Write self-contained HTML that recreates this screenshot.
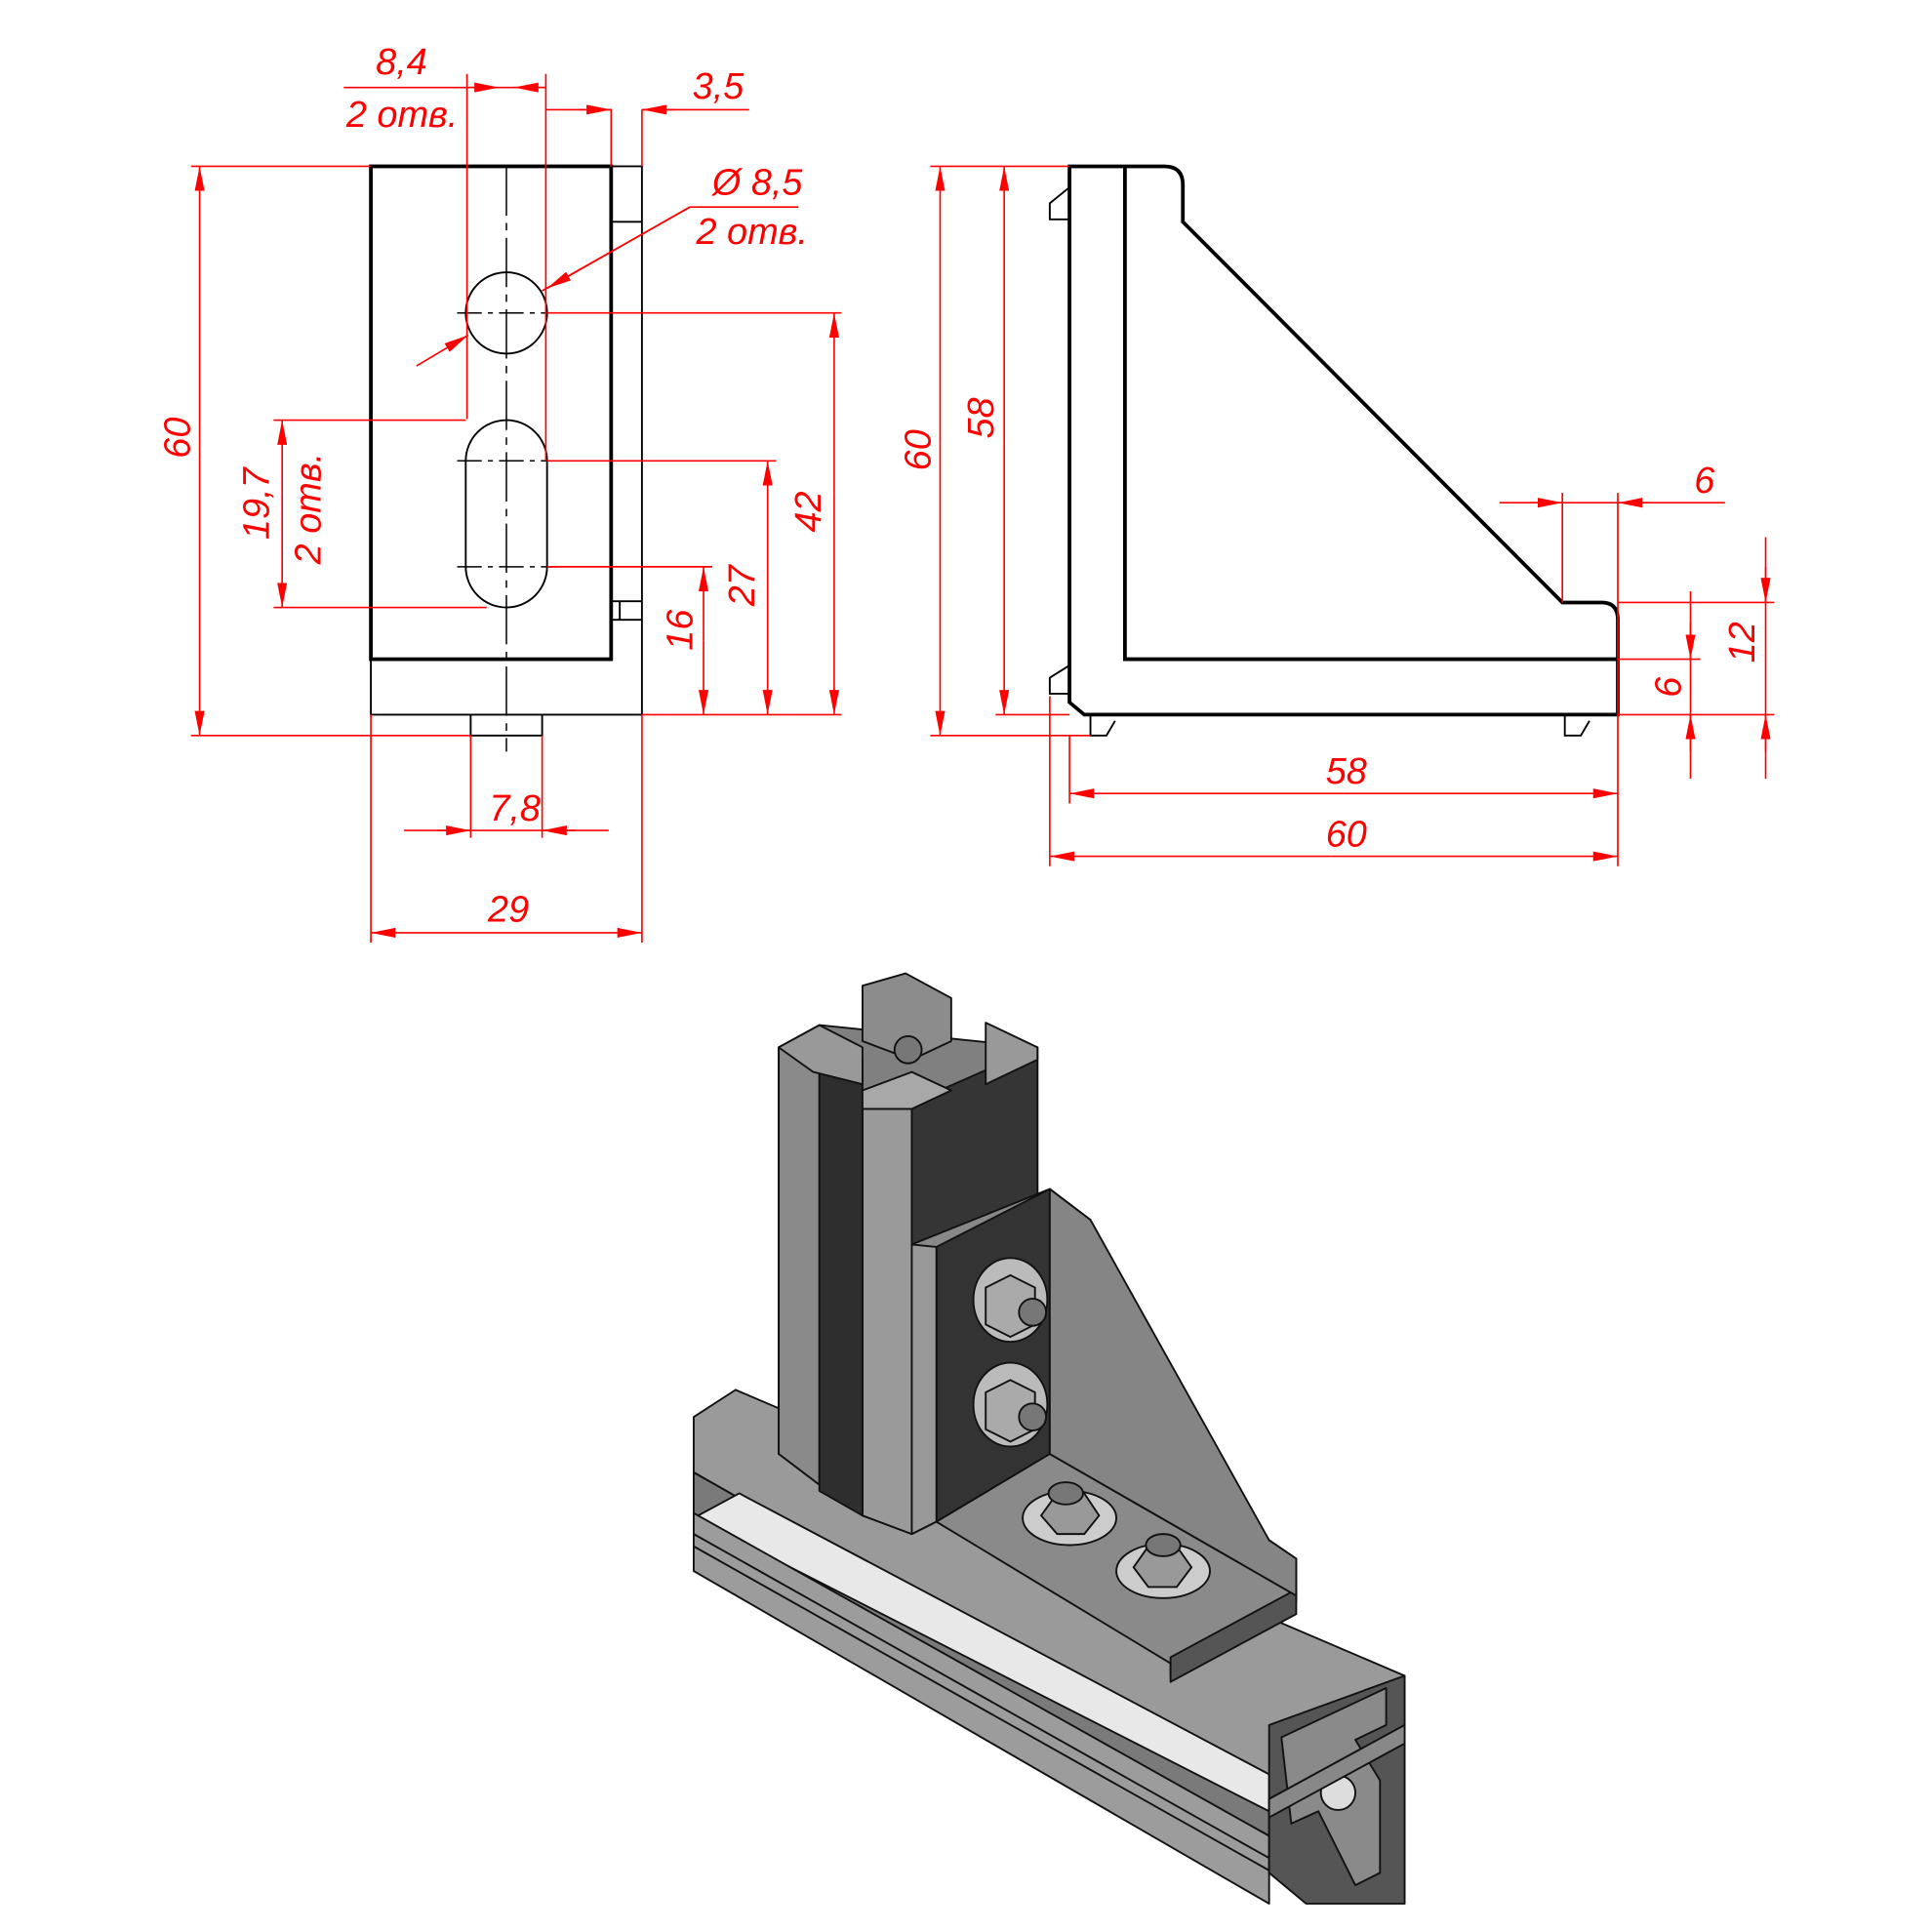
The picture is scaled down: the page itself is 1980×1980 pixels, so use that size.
<!DOCTYPE html>
<html><head><meta charset="utf-8"><style>html,body{margin:0;padding:0;background:#fff}svg{display:block}
.r{stroke:#f00;stroke-width:1.3;fill:none}.t{fill:#f00;font-family:"Liberation Sans",sans-serif;font-style:italic;font-size:30px}
.k{stroke:#000;fill:none}.a{fill:#f00}</style></head><body>
<svg width="1980" height="1980" viewBox="0 0 1568 1568" xmlns="http://www.w3.org/2000/svg">
<defs><marker id="m" viewBox="0 0 20 8" refX="20" refY="4" markerWidth="20" markerHeight="8" markerUnits="userSpaceOnUse" orient="auto-start-reverse"><path d="M0,0L20,4L0,8z" fill="#f00"/></marker></defs>
<!-- FRONT VIEW -->
<g class="k">
<rect x="301" y="135" width="195" height="400" stroke-width="3"/>
<path d="M496,135H521V580" stroke-width="1.5"/>
<path d="M496,180H521M496,488H521M503,488V503M496,503H521" stroke-width="1.5"/>
<path d="M301,535V580H521" stroke-width="1.5"/>
<path d="M382,580V597H440V580" stroke-width="1.5"/>
<circle cx="411" cy="254" r="33" stroke-width="1.5"/>
<path d="M378,374A33,33 0 0 1 444,374V460A33,33 0 0 1 378,460Z" stroke-width="1.5"/>
<path d="M411,135V610" stroke-width="1.2" stroke-dasharray="40,6,6,6"/>
<path d="M371,254H451M371,374H451M371,460H451" stroke-width="1.2" stroke-dasharray="20,5,4,5"/>
</g>
<g class="r">
<path d="M379,60V340M443,60V374M279,71H443"/>
<path d="M379,71H405" marker-end="url(#m)"/><path d="M443,71H417" marker-end="url(#m)"/>
<path d="M443,89H496V135M521,89V135M521,89H608"/>
<path d="M470,89H496" marker-end="url(#m)"/><path d="M548,89H521" marker-end="url(#m)"/>
<path d="M560,168H648M560,168L440,236" /><path d="M338,297L380,272" marker-end="url(#m)"/><path d="M560,168L444,234" marker-end="url(#m)"/>
<path d="M155,135H301M155,597H382"/><path d="M162,350V135" marker-end="url(#m)"/><path d="M162,350V597" marker-end="url(#m)"/>
<path d="M222,341H378M222,493H395"/><path d="M229,400V341" marker-end="url(#m)"/><path d="M229,400V493" marker-end="url(#m)"/>
<path d="M444,254H683M444,374H630M444,460H578M521,580H683"/>
<path d="M677,400V254" marker-end="url(#m)"/><path d="M677,400V580" marker-end="url(#m)"/>
<path d="M623,470V374" marker-end="url(#m)"/><path d="M623,470V580" marker-end="url(#m)"/>
<path d="M571,520V460" marker-end="url(#m)"/><path d="M571,520V580" marker-end="url(#m)"/>
<path d="M382,597V680M440,597V680M328,674H494"/>
<path d="M355,674H382" marker-end="url(#m)"/><path d="M467,674H440" marker-end="url(#m)"/>
<path d="M301,580V765M521,580V765"/>
<path d="M411,757H301" marker-end="url(#m)"/><path d="M411,757H521" marker-end="url(#m)"/>
</g>
<text class="t" x="305" y="60">8,4</text><text class="t" x="281" y="103">2 отв.</text>
<text class="t" x="562" y="80">3,5</text>
<text class="t" x="578" y="158">Ø 8,5</text><text class="t" x="565" y="198">2 отв.</text>
<text class="t" transform="translate(154,372) rotate(-90)">60</text>
<text class="t" transform="translate(218,438) rotate(-90)">19,7</text>
<text class="t" transform="translate(260,458) rotate(-90)">2 отв.</text>
<text class="t" transform="translate(666,432) rotate(-90)">42</text>
<text class="t" transform="translate(612,492) rotate(-90)">27</text>
<text class="t" transform="translate(562,528) rotate(-90)">16</text>
<text class="t" x="397" y="666">7,8</text><text class="t" x="396" y="748">29</text>
<!-- SIDE VIEW -->
<g class="k">
<path d="M868,135H945Q960,135 960,150V180L1268,489H1300Q1313,489 1313,503V580H880L868,570Z" stroke-width="3"/>
<path d="M913,135V535H1313" stroke-width="3"/>
<path d="M868,152L852,165V178H868M868,540L852,550V563H868" stroke-width="1.5"/>
<path d="M885,580V597H898L905,585M1270,580V597H1283L1290,585" stroke-width="1.5"/>
</g>
<g class="r">
<path d="M755,135H868M755,597H885M808,580H868"/>
<path d="M763,360V135" marker-end="url(#m)"/><path d="M763,360V597" marker-end="url(#m)"/>
<path d="M815,360V135" marker-end="url(#m)"/><path d="M815,360V580" marker-end="url(#m)"/>
<path d="M1268,400V489M1313,400V580M1217,408H1400"/>
<path d="M1242,408H1268" marker-end="url(#m)"/><path d="M1340,408H1313" marker-end="url(#m)"/>
<path d="M1313,489H1440M1313,535H1380M1313,580H1440"/>
<path d="M1372,505V535" marker-end="url(#m)"/><path d="M1372,610V580" marker-end="url(#m)"/><path d="M1372,480V632"/>
<path d="M1433,460V489" marker-end="url(#m)"/><path d="M1433,610V580" marker-end="url(#m)"/><path d="M1433,436V632"/>
<path d="M868,597V652M852,565V703M1313,580V703"/>
<path d="M1090,644H868" marker-end="url(#m)"/><path d="M1090,644H1313" marker-end="url(#m)"/>
<path d="M1080,695H852" marker-end="url(#m)"/><path d="M1080,695H1313" marker-end="url(#m)"/>
</g>
<text class="t" transform="translate(755,382) rotate(-90)">60</text>
<text class="t" transform="translate(806,356) rotate(-90)">58</text>
<text class="t" x="1375" y="400">6</text>
<text class="t" transform="translate(1364,566) rotate(-90)">6</text>
<text class="t" transform="translate(1424,538) rotate(-90)">12</text>
<text class="t" x="1076" y="636">58</text><text class="t" x="1076" y="687">60</text>
<!-- ISOMETRIC -->
<g stroke="#111" stroke-width="1.5" stroke-linejoin="round">
<polygon points="563,1150 597,1128 1140,1360 1140,1400 1030,1460 563,1195" fill="#9a9a9a"/>
<polygon points="563,1195 1030,1460 1030,1490 563,1232" fill="#7a7a7a"/>
<polygon points="563,1232 600,1212 1030,1440 1030,1470" fill="#e8e8e8"/>
<polygon points="563,1228 1030,1490 1030,1545 563,1275" fill="#9c9c9c"/>
<polyline points="563,1245 1030,1508" fill="none"/>
<polyline points="563,1255 1030,1518" fill="none"/>
<polygon points="1030,1400 1140,1360 1140,1545 1060,1545 1030,1520" fill="#555"/>
<polygon points="1040,1410 1125,1370 1125,1400 1100,1412 1120,1445 1120,1520 1100,1530 1070,1470 1048,1480" fill="#8a8a8a"/>
<circle cx="1086" cy="1455" r="14" fill="#ddd"/>
<polygon points="1030,1460 1140,1400 1140,1415 1030,1475" fill="#888"/>
<polygon points="632,850 665,832 842,850 842,1000 770,1000 770,900 740,900 740,1245 700,1230 665,1205 632,1180" fill="#808080"/>
<polygon points="632,850 665,850 665,1205 632,1180" fill="#8a8a8a"/>
<polygon points="700,900 740,900 740,1245 700,1230" fill="#9a9a9a"/>
<polygon points="740,895 842,850 842,1010 740,1010" fill="#353535"/>
<polygon points="665,860 700,860 700,1230 665,1210" fill="#2e2e2e"/>
<polygon points="700,800 735,790 772,810 772,845 740,860 700,845" fill="#8c8c8c"/>
<polygon points="632,850 665,832 700,850 700,880 660,870" fill="#999"/>
<polygon points="800,830 842,850 842,860 800,880" fill="#999"/>
<polygon points="700,885 740,870 772,885 740,900 700,900" fill="#a8a8a8"/>
<circle cx="737" cy="852" r="11" fill="#777"/>
<polygon points="740,1010 852,965 885,990 885,1000 1030,1250 1052,1265 1052,1300 950,1360 950,1345 760,1235 740,1245" fill="#888"/>
<polygon points="760,1012 852,965 852,1180 760,1235" fill="#333"/>
<polygon points="740,1010 760,1012 760,1235 740,1245" fill="#999"/>
<polygon points="760,1235 852,1180 1052,1295 950,1350" fill="#8a8a8a"/>
<polygon points="950,1345 1052,1290 1052,1310 950,1365" fill="#555"/>
<polygon points="852,965 885,990 1030,1250 1052,1265 1052,1295 852,1180" fill="#858585"/>
</g>
<g stroke="#111" stroke-width="1.5">
<ellipse cx="820" cy="1055" rx="30" ry="34" fill="#bbb"/><polygon points="800,1045 820,1035 840,1045 840,1075 820,1085 800,1075" fill="#aaa"/><circle cx="838" cy="1065" r="11" fill="#777"/>
<ellipse cx="820" cy="1140" rx="30" ry="34" fill="#bbb"/><polygon points="800,1130 820,1120 840,1130 840,1160 820,1170 800,1160" fill="#aaa"/><circle cx="838" cy="1150" r="11" fill="#777"/>
<ellipse cx="868" cy="1232" rx="38" ry="22" fill="#ccc"/><polygon points="845,1230 858,1212 880,1212 892,1230 880,1245 858,1245" fill="#999"/><ellipse cx="865" cy="1212" rx="14" ry="9" fill="#777"/>
<ellipse cx="944" cy="1275" rx="38" ry="22" fill="#ccc"/><polygon points="920,1272 932,1255 955,1255 967,1272 955,1288 932,1288" fill="#999"/><ellipse cx="944" cy="1254" rx="14" ry="9" fill="#777"/>
</g>
</svg>
</body></html>
